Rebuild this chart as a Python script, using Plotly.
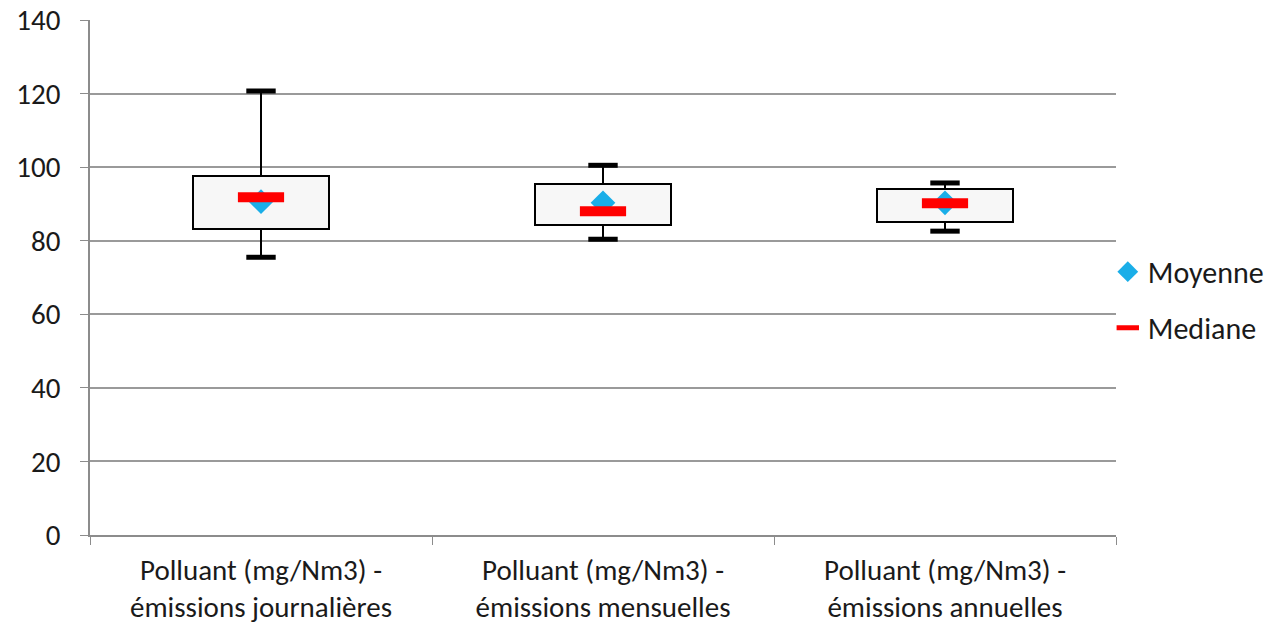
import plotly.graph_objects as go

categories = ["Polluant (mg/Nm3) -<br>émissions journalières",
              "Polluant (mg/Nm3) -<br>émissions mensuelles",
              "Polluant (mg/Nm3) -<br>émissions annuelles"]
q1 = [83.2, 84.2, 85.1]
q3 = [97.6, 95.4, 94.0]
whisker_low = [75.5, 80.4, 82.6]
whisker_high = [120.7, 100.5, 95.7]
median = [91.8, 88.0, 90.2]
mean = [90.6, 90.3, 90.3]

FONT = "Carlito, Lato, Liberation Sans, sans-serif"

fig = go.Figure()

# whisker stems
wx, wy = [], []
for c, lo, a, b, hi in zip(categories, whisker_low, q1, q3, whisker_high):
    wx += [c, c, None, c, c, None]
    wy += [lo, a, None, b, hi, None]
fig.add_trace(go.Scatter(x=wx, y=wy, mode="lines", line=dict(color="black", width=2),
                         showlegend=False, hoverinfo="skip"))

# box body
fig.add_trace(go.Bar(x=categories, y=[b - a for a, b in zip(q1, q3)], base=q1, width=0.4,
                     marker=dict(color="#f7f7f7", line=dict(color="black", width=2)),
                     showlegend=False, hoverinfo="skip"))

# whisker caps
fig.add_trace(go.Scatter(x=categories + categories, y=whisker_low + whisker_high, mode="markers",
                         marker=dict(symbol="line-ew", size=21, line=dict(color="black", width=5)),
                         showlegend=False, hoverinfo="skip"))

# mean
fig.add_trace(go.Scatter(x=categories, y=mean, mode="markers", name="Moyenne", legendgroup="a",
                         marker=dict(symbol="diamond", size=19, color="#1aaee8")))
# median
fig.add_trace(go.Scatter(x=categories, y=median, mode="markers", name="Mediane", legendgroup="b",
                         marker=dict(symbol="line-ew", size=33, color="#ff0000",
                                     line=dict(color="#ff0000", width=10))))

fig.update_layout(
    width=1270, height=626,
    margin=dict(l=90, r=154, t=20, b=91, autoexpand=False),
    plot_bgcolor="white", paper_bgcolor="white",
    font=dict(family=FONT, size=29, color="#1a1a1a"),
    bargap=0,
    legend=dict(x=0.992, y=0.457, xanchor="left", yanchor="middle",
                traceorder="grouped", tracegroupgap=14,
                font=dict(size=30), itemsizing="trace", bgcolor="rgba(0,0,0,0)"),
    xaxis=dict(showline=True, linecolor="#8c8c8c", linewidth=1.5, automargin=False,
               ticks="outside", tickson="boundaries", ticklen=8, tickcolor="#8c8c8c",
               ticklabelstandoff=8,
               tickfont=dict(size=29, color="#1a1a1a"), showgrid=False),
    yaxis=dict(range=[0, 140], dtick=20, showline=True, linecolor="#8c8c8c", linewidth=1.5,
               automargin=False, ticklabelstandoff=14,
               ticks="outside", ticklen=8, tickcolor="#8c8c8c",
               gridcolor="#9a9a9a", gridwidth=1.5, zeroline=False,
               tickfont=dict(size=29, color="#1a1a1a")),
)

fig.write_html("out.html", config={"displayModeBar": False},
               post_script="document.body.style.margin='0';document.body.style.overflow='hidden';")
